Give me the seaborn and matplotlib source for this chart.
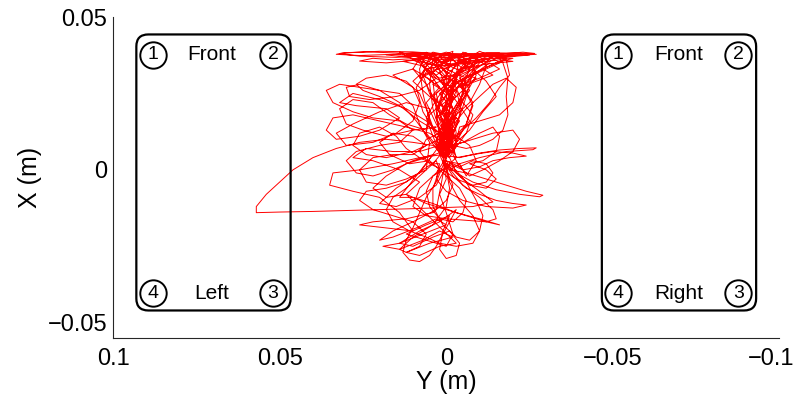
import numpy as np
import matplotlib
matplotlib.use("Agg")
import matplotlib.pyplot as plt
from matplotlib.patches import FancyBboxPatch
from matplotlib.transforms import ScaledTranslation
import seaborn as sns
import pandas as pd

# ---------------- data ----------------
x_ticks = [0.1, 0.05, 0.0, -0.05, -0.1]
x_tick_labels = ["0.1", "0.05", "0", "\u22120.05", "\u22120.1"]
y_ticks = [-0.05, 0.0, 0.05]
y_tick_labels = ["\u22120.05", "0", "0.05"]

# foot outlines (Y range, X range) in metres
box_y_left = (0.0467, 0.0930)
box_y_right = (-0.0930, -0.0467)
box_x = (-0.0460, 0.0443)
circle_y_left = [0.0880, 0.0520]     # (1),(2) on top / (4),(3) at bottom
circle_y_right = [-0.0514, -0.0877]
circle_x_top = 0.0377
circle_x_bottom = -0.0403
label_y_left = 0.0705
label_y_right = -0.0699

# trajectory (Y, X) in millimetres
traj_mm = [
    (2,9),(-1,12),(1,15),(-2,11),(2,7),(0,4),(-2,8),(1,13),(3,17),(-1,21),(2,25),(-4,29),(1,33),(-6,36),
    (-14,37.8),(-24,38),(-27,37.8),(-18,37.2),(-8,37.6),(3,38),(14,38.2),(24,38.6),(31,38.3),(33,37.8),
    (26,37.4),(16,37.8),(6,37),(-3,34),(2,29),(-3,24),(1,19),(-2,14),(0,9),(2,5),
    (-3,9),(-6,15),(-8,21),(-5,27),(-9,32),(-15,35),(-20,36.5),(-12,36.5),(-3,35),(6,33),(10,29),(5,24),
    (0,20),(-4,16),(-1,11),(3,8),(1,4),
    (5,10),(9,16),(14,22),(20,26),(26,28),(30,27),(29,24),(23,23),(15,24),(8,26),(3,30),(7,34),(13,35.5),
    (6,36.5),(-4,37),(-10,35),(-6,30),(-1,24),(2,18),(-1,13),(1,9),
    (5,12),(12,14),(20,16),(28,18),(34,17),(36,13),(33,10),(26,11),(20,13),(14,17),(18,20),(27,21),(32,22),
    (28,25),(20,23),(12,20),(6,16),(2,12),(0,8),
    (-4,12),(-9,17),(-13,22),(-16,27),(-19,31),(-18,36),(-15,38),(-17,35),(-18.5,30),(-18,24),(-18.5,18),
    (-17,13),(-14,10),(-10,8),(-6,7),(-2,8),
    (-7,13),(-11,19),(-15,24),(-12,29),(-8,33),(-4,30),(-6,25),(-3,20),(0,15),(-1,10),(1,6),
    (4,8),(10,9),(18,10),(26,9),(33,7),(40,4),(46,0),(50,-4),(54,-8),(57,-12),(57,-14),(50,-13.8),(40,-13.6),
    (30,-13.3),(20,-13),(10,-12.7),(0,-12.3),(-8,-12),(-14,-10.5),(-10,-7),(-5,-3),(-1,1),(1,5),
    (8,4),(16,2),(26,0),(34,-1),(35,-5),(28,-7),(20,-9),(14,-14),(10,-20),(18,-19),(26,-18),(22,-17),
    (12,-16),(4,-14),(0,-10),(-2,-5),(0,0),(2,5),
    (-4,4),(-10,5.5),(-16,6.5),(-22,7),(-27,7.2),(-26,6.6),(-18,6),(-10,4),(-4,2),(-1,0),
    (-6,-1),(-12,-3),(-18,-5),(-24,-7),(-29,-8.3),(-28,-8.8),(-22,-8),(-15,-6.5),(-8,-4),(-3,-1),(1,3),
    (-5,-5),(-10,-9),(-14,-13),(-15,-16),(-12,-17),(-6,-16.5),(0,-16),(6,-15),(10,-12),(8,-6),(3,-1),(0,4),
    (3,-4),(6,-9),(8,-14),(10,-19),(12,-23),(13,-27),(11,-29.5),(8,-30),(5,-28),(3,-25),(1,-21),(-1,-17),(-3,-13),
    (2,-17),(8,-20),(14,-24),(10,-25),(4,-22),(-1,-20),(-4,-24),(-3,-28),(0,-29),(2,-26),(1,-20),(-1,-15),
    (6,-18),(12,-21),(6,-23),(0,-25),(-2,-21),(0,-14),(2,-8),(0,-3),(1,3),
    (-4,2),(-6,-2),(-9,3),(-7,8),(-3,11),(2,12),(6,10),(8,6),(5,2),(1,0),(-3,4),(-1,9),(2,13),(-1,16),(3,20),
    (-2,24),(4,28),(-5,32),(3,36),(10,37.8),(-3,38),(-16,38.2),(-10,36.8),(0,35.5),(5,31),(-2,27),(2,22),
    (-3,17),(0,12),(3,7),(0,4),
    (-2,14),(1,20),(-5,26),(-2,31),(-7,35),(-2,37.5),(8,38.4),(18,37.6),(11,36.8),(3,34),(-1,29),(4,24),
    (-1,18),(1,12),(-1,8),
    (3,15),(6,22),(2,27),(7,31),(0,34),(-10,36),(-22,37.3),(-25,37.6),(-14,37),(-5,33),(0,26),(-2,20),(1,14),
    (-1,9),(1,6),
    (6,4),(12,2),(18,-2),(22,-6),(18,-9),(12,-8),(8,-4),(14,0),(22,3),(28,4),(24,7),(16,6),(8,6),(2,8),
    (8,-1),(15,-6),(20,-11),(15,-12),(8,-9),(3,-5),(0,1),(2,7),
    (-5,9),(-10,12),(-14,14),(-16,11),(-15,6),(-11,3),(-7,2),(-12,0),(-15,-3),(-12,-6),(-7,-5),(-3,-1),
    (-1,4),(1,8),(-2,12),(0,15),(2,10),
    # dense central band
    (0,6),(-3,14),(-6,24),(-8,32),(-9,37),(-5,38.5),(-2,33),(1,25),(3,17),(1,10),(-1,5),
    (2,8),(5,16),(7,25),(8,33),(6,38.5),(3,35),(0,27),(-2,19),(-3,12),(0,7),
    (-1,9),(-4,18),(-5,27),(-3,35),(0,38),(4,36),(5,28),(4,20),(2,13),(-1,8),
    (1,10),(-2,17),(-7,22),(-10,28),(-12,34),(-8,37.5),(-4,32),(-1,26),(2,21),(5,18),(6,12),(3,8),
    (-2,6),(-6,12),(-8,18),(-5,22),(-2,29),(2,34),(9,37),(14,38.5),(8,35),(4,30),(0,24),(-3,18),(-1,12),(2,9),
    (0,11),(3,19),(1,26),(-3,31),(-6,36),(-10,38.8),(-14,37),(-9,33),(-6,28),(-4,22),(-1,16),(1,11),
    (3,12),(7,19),(9,27),(6,32),(2,37),(-2,38.8),(-1,34),(1,28),(-2,23),(0,17),(-2,12),(0,8),
    (-3,10),(-7,16),(-4,21),(0,27),(4,32),(7,36),(4,38.5),(-3,37),(-7,33),(-5,27),(-8,22),(-6,15),(-2,10),
    (2,6),(4,11),(6,17),(3,23),(-1,29),(-5,33),(-2,36),(3,38),(8,36.5),(10,33),(6,28),(3,22),(1,15),(-1,9),
    (1,13),(-1,18),(-4,23),(-7,27),(-9,31),(-7,36),(0,38.5),(5,37),(7,31),(5,25),(2,19),(0,13),(1,8),
    # top horizontal strokes
    (-4,37),(-12,38.3),(-20,38.2),(-26,38),(-22,37.6),(-12,37.2),(0,37.8),(10,38.6),(20,38.8),(28,38.4),
    (32,38),(26,37.2),(15,36.8),(5,37.4),(-2,36),
    (3,35),(-6,37.4),(-16,37.9),(-23,38.5),(-26.5,38.1),(-18,37.5),(-6,37),(4,37.6),(12,38),(8,37),(0,35),
    (-1,36),(8,36.5),(16,36),(22,36.5),(26,35.6),(18,35),(10,35.8),(2,34),(-8,35),(-16,36),(-20,35.5),
    (-12,34.6),(-4,33),
    # left loops
    (2,12),(8,16),(14,21),(20,24),(25,26),(27,28),(24,30),(18,31),(12,29),(8,25),(6,20),(4,14),
    (3,14),(10,13),(18,11),(25,13),(30,15),(32,20),(28,23),(22,22),(17,18),(12,15),(6,13),
    (5,20),(12,22),(20,19),(28,15),(33,12),(30,8),(22,9),(15,12),(10,16),(8,22),(10,27),(16,31),(10,33),(4,29),
    (2,10),(10,6),(18,4),(24,5),(28,8),(26,12),(20,14),(15,11),(12,7),(8,4),(4,2),(1,6),
    # blob
    (0,8),(2,12),(3,10),(1,5),(-1,4),(-3,8),(-2,13),(0,15),(2,13),(3,8),(1,4),(-2,6),(-3,10),(-1,14),(1,12),
    (2,7),(0,5),(-2,9),(0,13),(2,11),(1,6),(-1,7),(-2,11),(0,14),(2,9),(0,6),
    # lower region
    (1,3),(-2,-2),(-6,-6),(-10,-8),(-15,-10),(-20,-11),(-24,-11.5),(-20,-12.5),(-12,-12),(-5,-10),(0,-7),(3,-3),(2,2),
    (4,2),(8,-2),(12,-6),(16,-9),(18,-13),(16,-17),(11,-20),(6,-22),(2,-24),(-3,-25),(-8,-24),(-10,-20),
    (-8,-15),(-4,-10),(-1,-4),(0,2),
    (-2,1),(-6,-4),(-9,-10),(-11,-15),(-10,-20),(-7,-23),(-3,-22),(1,-18),(4,-12),(4,-6),(2,0),
    (3,3),(7,0),(12,-4),(18,-6),(24,-7),(26,-10),(22,-13),(16,-15),(10,-17),(6,-21),(8,-25),(12,-27),(14,-26),
    (10,-22),(4,-18),(0,-12),(-1,-6),(0,0),
    (-1,2),(-5,0),(-10,1),(-14,3),(-19,4),(-24,4.5),(-20,5.5),(-14,6),(-8,5),(-3,4),
    (-2,8),(-8,10),(-14,12),(-20,13),(-22,10),(-20,6),(-16,3),(-11,0),(-7,-2),(-4,1),(-2,5),
    (-4,14),(-10,16),(-16,18),(-20,22),(-21,27),(-18,30),(-14,28),(-10,24),(-6,20),(-3,16),(0,10),
    # top-right dense zone
    (-2,30),(-8,33),(-14,36),(-17,38),(-12,37),(-6,34),(-3,31),(-9,35),(-15,37.5),(-18,36.5),(-13,34),
    (-7,31),(-4,29),(-10,32),(-16,35),(-12,38),(-5,36),(0,33),(-6,30),(-11,33),(-14,31),(-9,29),(-4,27),
    (-8,31),(-13,35),(-16,33),(-10,30),(-5,28),(0,30),(4,33),(0,36),(-6,38.3),(-10,36),(-7,33),(-2,31),
    (2,30),(6,33),(8,36),(5,38),(1,35),(4,32),(8,30),(6,34),(2,37),(-1,34),(3,31),(7,34),(4,36.5),(0,32),
    # slanted middle band
    (0,12),(-2,16),(-4,20),(-6,25),(-4,28),(-1,24),(1,19),(-1,15),(-3,19),(-5,23),(-7,26),(-5,30),(-2,27),
    (0,22),(2,17),(0,13),(-2,18),(-4,22),(-3,26),(0,28),(3,25),(2,20),(0,16),(-3,21),(-6,27),(-9,30),
    (-6,31),(-3,26),(-1,20),(1,15),(-1,11),
    # blob again
    (-1,5),(1,9),(2,13),(0,15),(-2,12),(-1,7),(1,5),(2,10),(1,14),(-1,13),(-2,9),(0,6),(1,8),(0,12),
    (-1,10),(0,7),(2,8),(1,12),(-1,11),(-2,7),(0,4),
    # lower-left hatch
    (3,-13),(10,-17),(16,-20),(20,-23),(16,-22),(9,-19),(3,-16),(0,-18),(7,-21),(14,-24),(19,-25),(14,-26),
    (7,-23),(2,-20),(-2,-22),(5,-24),(12,-27),(8,-28),(2,-25),(-3,-24),
    # diagonal lines, lower right
    (12,-8),(6,-11),(0,-13),(-6,-15),(-12,-17),(-16,-18),(-10,-16),(-3,-14),(4,-11),(10,-9),(14,-9),
    # middle-left loops
    (4,5),(10,3),(16,0),(22,-2),(27,-1),(30,3),(27,6),(20,8),(14,9),(10,13),(14,16),(22,17),(28,19),(34,22),
    (36,26),(32,28),(26,27),(20,26),(14,25),(10,21),(8,15),(5,9),
    (6,0),(12,-3),(18,-5),(24,-4),(26,0),(22,4),(16,5),(10,5),(6,8),(10,11),(16,12),(20,9),(17,5),(11,2),(5,3),
    # lower centre loops
    (0,-2),(-4,-6),(-6,-10),(-5,-14),(-2,-17),(2,-16),(5,-12),(6,-7),(4,-2),(1,0),(-3,-3),(-8,-5),(-12,-4),
    (-14,-1),(-12,2),(-8,3),(-4,1),(0,3),
]
traj_y = [p[0] / 1000.0 for p in traj_mm]
traj_x = [p[1] / 1000.0 for p in traj_mm]

# ---------------- figure ----------------
sns.set_theme(style="white")
plt.rcParams["font.family"] = ["Liberation Sans", "DejaVu Sans"]
plt.rcParams["text.color"] = "black"
plt.rcParams["axes.labelcolor"] = "black"

fig = plt.figure(figsize=(7.97, 3.96), dpi=100)
ax = fig.add_axes([0.1418, 0.1465, 0.8362, 0.8105])

df = pd.DataFrame({"Y": traj_y, "X": traj_x})
sns.lineplot(data=df, x="Y", y="X", sort=False, estimator=None, color="red", lw=0.7, ax=ax)

ax.set_xlim(0.1, -0.1)
ax.set_ylim(-0.055, 0.05)

# foot outlines
px_per_x = 3330.0
px_per_y = 3054.0
round_px = 12.0
for (y0, y1) in (box_y_left, box_y_right):
    patch = FancyBboxPatch((y0, box_x[0]), y1 - y0, box_x[1] - box_x[0],
                           boxstyle=f"round,pad=0,rounding_size={round_px/px_per_x}",
                           mutation_aspect=px_per_x / px_per_y,
                           fill=False, ec="black", lw=1.6, zorder=3)
    ax.add_patch(patch)

for cys, ly, name in ((circle_y_left, label_y_left, "Left"), (circle_y_right, label_y_right, "Right")):
    for cx in (circle_x_top, circle_x_bottom):
        ax.plot(cys, [cx] * 2, ls="none", marker="o", ms=19, mfc="white", mec="black", mew=1.4, zorder=4)
    for cy, num in zip(cys, ["1", "2"]):
        ax.text(cy, circle_x_top, num, ha="center", va="center", fontsize=14, zorder=5)
    for cy, num in zip(cys, ["4", "3"]):
        ax.text(cy, circle_x_bottom, num, ha="center", va="center", fontsize=14, zorder=5)
    ax.text(ly, circle_x_top, "Front", ha="center", va="center", fontsize=15, zorder=5)
    ax.text(ly, circle_x_bottom, name, ha="center", va="center", fontsize=15, zorder=5)

ax.set_xticks(x_ticks)
ax.set_xticklabels(x_tick_labels)
ax.set_yticks(y_ticks)
ax.set_yticklabels(y_tick_labels)
ax.tick_params(direction="in", length=4, width=0.8, colors="#262626", labelsize=17, pad=4,
               labelcolor="black")
ax.tick_params(axis="x", pad=7)
# last x label sits slightly left, as in the reference
last = ax.get_xticklabels()[-1]
last.set_transform(last.get_transform() + ScaledTranslation(-8 / 100, 0, fig.dpi_scale_trans))

for s in ("top", "right"):
    ax.spines[s].set_visible(False)
for s in ("left", "bottom"):
    ax.spines[s].set_color("#262626")
    ax.spines[s].set_linewidth(0.8)

ax.set_xlabel("Y (m)", fontsize=18, labelpad=0)
ax.set_ylabel("X (m)", fontsize=18, labelpad=4)

fig.savefig("out.png", dpi=100)
